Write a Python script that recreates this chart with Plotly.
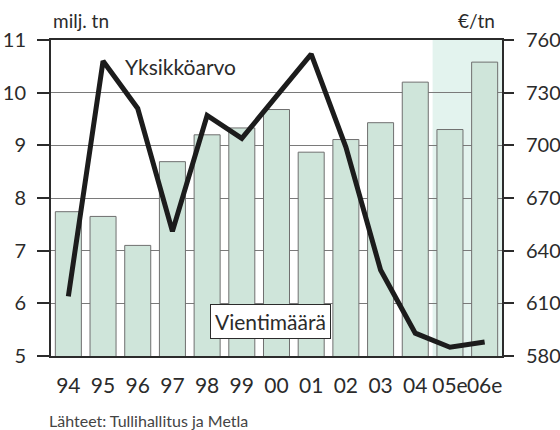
import plotly.graph_objects as go

# Data
years = ["94", "95", "96", "97", "98", "99", "00", "01", "02", "03", "04", "05e", "06e"]
tick_text = ["94", "95", "96", "97", "98", "99", "00", "01", "02", "03", "04", "05e", "06e"]
volume = [7.74, 7.65, 7.10, 8.69, 9.20, 9.33, 9.68, 8.87, 9.11, 9.43, 10.20, 9.30, 10.58]  # milj. tn
unit_value = [614, 748, 721, 651, 717, 704, 728, 752, 699, 629, 593, 585, 588]  # €/tn
estimate_years = ["05e", "06e"]

FONT = "Lato"
DARK = "#2b2b2b"
BAR_FILL = "#cfe5da"
SHADE = "#e3f3ee"
TICK_SIZE = 20

fig = go.Figure()

# Export volume bars (left axis)
fig.add_trace(
    go.Bar(
        x=years,
        y=volume,
        marker=dict(color=BAR_FILL, line=dict(color="#6f6f6f", width=1)),
        showlegend=False,
        hoverinfo="skip",
    )
)

# Unit value line (right axis)
fig.add_trace(
    go.Scatter(
        x=years,
        y=unit_value,
        yaxis="y2",
        mode="lines",
        line=dict(color="#1c1c1c", width=5),
        showlegend=False,
        hoverinfo="skip",
    )
)

# Shaded background for the estimate years
fig.add_shape(
    type="rect",
    xref="x",
    yref="paper",
    x0=years.index(estimate_years[0]) - 0.5,
    x1=years.index(estimate_years[-1]) + 0.5,
    y0=0,
    y1=1,
    fillcolor=SHADE,
    line=dict(width=0),
    layer="below",
)

# Series labels (category positions given as indices)
fig.add_annotation(
    x=years.index("96"), y=745, xref="x", yref="y2",
    text="Yksikköarvo", showarrow=False,
    xanchor="left", yanchor="middle", xshift=-15,
    font=dict(family=FONT, size=21, color=DARK),
)
fig.add_annotation(
    x=years.index("00"), y=5.66, xref="x", yref="y",
    text="Vientimäärä", showarrow=False,
    xanchor="center", yanchor="middle", xshift=-6,
    font=dict(family=FONT, size=21, color=DARK),
    bgcolor="white", bordercolor=DARK, borderwidth=1, borderpad=4,
)

# Axis unit titles and source
fig.add_annotation(
    x=0, y=1, xref="paper", yref="paper",
    text="milj. tn", showarrow=False,
    xanchor="left", yanchor="middle", yshift=20,
    font=dict(family=FONT, size=19, color=DARK),
)
fig.add_annotation(
    x=1, y=1, xref="paper", yref="paper",
    text="€/tn", showarrow=False,
    xanchor="right", yanchor="middle", yshift=20, xshift=-5,
    font=dict(family=FONT, size=19, color=DARK),
)
fig.add_annotation(
    x=0, y=0, xref="paper", yref="paper",
    text="Lähteet: Tullihallitus ja Metla", showarrow=False,
    xanchor="left", yanchor="middle", yshift=-64, xshift=-4,
    font=dict(family=FONT, size=16, color="#444444"),
)

fig.update_layout(
    width=560,
    height=430,
    margin=dict(l=51, r=58, t=40, b=74, autoexpand=False),
    plot_bgcolor="white",
    paper_bgcolor="white",
    bargap=0.25,
    font=dict(family=FONT, color=DARK),
    xaxis=dict(
        type="category",
        tickmode="array",
        tickvals=years,
        ticktext=tick_text,
        tickangle=0,
        automargin=False,
        showgrid=False,
        showline=True,
        linecolor=DARK,
        linewidth=2,
        mirror=True,
        ticks="",
        ticklabelstandoff=10,
        tickfont=dict(family=FONT, size=21, color=DARK),
        range=[-0.5, len(years) - 0.5],
    ),
    yaxis=dict(
        range=[5, 11],
        tick0=5,
        dtick=1,
        automargin=False,
        showgrid=True,
        gridcolor="#7a7a7a",
        gridwidth=1,
        showline=True,
        linecolor=DARK,
        linewidth=2,
        ticks="outside",
        ticklen=12,
        tickwidth=2,
        tickcolor=DARK,
        ticklabelstandoff=7,
        tickfont=dict(family=FONT, size=TICK_SIZE, color=DARK),
        zeroline=False,
    ),
    yaxis2=dict(
        range=[580, 760],
        tick0=580,
        dtick=30,
        overlaying="y",
        side="right",
        automargin=False,
        showgrid=False,
        showline=True,
        linecolor=DARK,
        linewidth=2,
        ticks="outside",
        ticklen=10,
        tickwidth=2,
        tickcolor=DARK,
        ticklabelstandoff=8,
        tickfont=dict(family=FONT, size=TICK_SIZE, color=DARK),
        zeroline=False,
    ),
)

# Remove the default page margin so the figure sits at the window's corner
fig.write_html(
    "out.html",
    config={"displayModeBar": False},
    post_script="document.body.style.margin='0';",
)
